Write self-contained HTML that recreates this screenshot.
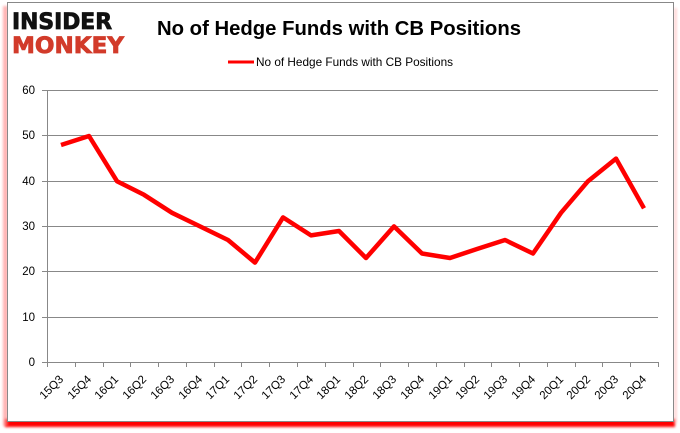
<!DOCTYPE html>
<html><head><meta charset="utf-8"><style>
html,body{margin:0;padding:0;background:#fff;}
body{width:680px;height:433px;overflow:hidden;position:relative;}
svg{position:absolute;left:0;top:0;}
</style></head><body>
<svg width="680" height="433" viewBox="0 0 680 433" xmlns="http://www.w3.org/2000/svg">
<defs>
<filter id="sh" x="-5%" y="-50%" width="110%" height="200%"><feGaussianBlur stdDeviation="1.2"/></filter>
<filter id="sh2" x="-50%" y="-5%" width="200%" height="110%"><feGaussianBlur stdDeviation="1.2"/></filter>
</defs>
<!-- red shadow -->
<rect x="5" y="419" width="670" height="8" fill="#ff0000" filter="url(#sh)"/>
<rect x="3" y="6" width="5" height="420" fill="#ff8080" opacity="0.6" filter="url(#sh2)"/>
<rect x="674" y="8" width="3" height="415" fill="#ffb0b0" opacity="0.5" filter="url(#sh2)"/>
<rect x="7.5" y="2.5" width="666" height="419" fill="#fff" stroke="#888" stroke-width="1"/>
<!-- logo -->
<text x="12" y="29" font-family="'DejaVu Sans', 'Liberation Sans', sans-serif" font-weight="900" font-size="22" fill="#111" textLength="100" lengthAdjust="spacingAndGlyphs" stroke="#111" stroke-width="0.8">INSIDER</text>
<text x="12" y="53" font-family="'DejaVu Sans', 'Liberation Sans', sans-serif" font-weight="900" font-size="22" fill="#d23b2a" textLength="112" lengthAdjust="spacingAndGlyphs" stroke="#d23b2a" stroke-width="0.8">MONKEY</text>
<!-- title -->
<text x="339" y="35" text-anchor="middle" font-family="'Liberation Sans', sans-serif" font-weight="bold" font-size="20" fill="#000" textLength="364" lengthAdjust="spacingAndGlyphs">No of Hedge Funds with CB Positions</text>
<!-- legend -->
<line x1="228" y1="62" x2="254" y2="62" stroke="#ff0000" stroke-width="3"/>
<text x="256" y="66" font-family="'Liberation Sans', sans-serif" font-size="12" fill="#000" textLength="197" lengthAdjust="spacingAndGlyphs">No of Hedge Funds with CB Positions</text>
<!-- grid -->
<g stroke="#888" stroke-width="1">
<line x1="42" y1="90.5" x2="658" y2="90.5"/>
<line x1="42" y1="135.5" x2="658" y2="135.5"/>
<line x1="42" y1="181.5" x2="658" y2="181.5"/>
<line x1="42" y1="226.5" x2="658" y2="226.5"/>
<line x1="42" y1="271.5" x2="658" y2="271.5"/>
<line x1="42" y1="317.5" x2="658" y2="317.5"/>
<line x1="42" y1="362.5" x2="658" y2="362.5"/>
<line x1="47.5" y1="90" x2="47.5" y2="362"/>
</g>
<g font-family="'Liberation Sans', sans-serif" font-size="11.5" fill="#000" text-anchor="end">
<text x="35" y="94">60</text>
<text x="35" y="139">50</text>
<text x="35" y="185">40</text>
<text x="35" y="230">30</text>
<text x="35" y="275">20</text>
<text x="35" y="321">10</text>
<text x="35" y="366">0</text>
</g>
<g stroke="#888" stroke-width="1">
<line x1="47.5" y1="362" x2="47.5" y2="367"/><line x1="75.5" y1="362" x2="75.5" y2="367"/><line x1="103.5" y1="362" x2="103.5" y2="367"/><line x1="130.5" y1="362" x2="130.5" y2="367"/><line x1="158.5" y1="362" x2="158.5" y2="367"/><line x1="186.5" y1="362" x2="186.5" y2="367"/><line x1="214.5" y1="362" x2="214.5" y2="367"/><line x1="241.5" y1="362" x2="241.5" y2="367"/><line x1="269.5" y1="362" x2="269.5" y2="367"/><line x1="297.5" y1="362" x2="297.5" y2="367"/><line x1="325.5" y1="362" x2="325.5" y2="367"/><line x1="353.5" y1="362" x2="353.5" y2="367"/><line x1="380.5" y1="362" x2="380.5" y2="367"/><line x1="408.5" y1="362" x2="408.5" y2="367"/><line x1="436.5" y1="362" x2="436.5" y2="367"/><line x1="464.5" y1="362" x2="464.5" y2="367"/><line x1="491.5" y1="362" x2="491.5" y2="367"/><line x1="519.5" y1="362" x2="519.5" y2="367"/><line x1="547.5" y1="362" x2="547.5" y2="367"/><line x1="575.5" y1="362" x2="575.5" y2="367"/><line x1="602.5" y1="362" x2="602.5" y2="367"/><line x1="630.5" y1="362" x2="630.5" y2="367"/><line x1="658.5" y1="362" x2="658.5" y2="367"/>
</g>
<g font-family="'Liberation Sans', sans-serif" font-size="11.5" fill="#000" text-anchor="end">
<text transform="translate(64,380) rotate(-45)">15Q3</text>
<text transform="translate(92,380) rotate(-45)">15Q4</text>
<text transform="translate(119,380) rotate(-45)">16Q1</text>
<text transform="translate(147,380) rotate(-45)">16Q2</text>
<text transform="translate(175,380) rotate(-45)">16Q3</text>
<text transform="translate(203,380) rotate(-45)">16Q4</text>
<text transform="translate(230,380) rotate(-45)">17Q1</text>
<text transform="translate(258,380) rotate(-45)">17Q2</text>
<text transform="translate(286,380) rotate(-45)">17Q3</text>
<text transform="translate(314,380) rotate(-45)">17Q4</text>
<text transform="translate(341,380) rotate(-45)">18Q1</text>
<text transform="translate(369,380) rotate(-45)">18Q2</text>
<text transform="translate(397,380) rotate(-45)">18Q3</text>
<text transform="translate(425,380) rotate(-45)">18Q4</text>
<text transform="translate(453,380) rotate(-45)">19Q1</text>
<text transform="translate(480,380) rotate(-45)">19Q2</text>
<text transform="translate(508,380) rotate(-45)">19Q3</text>
<text transform="translate(536,380) rotate(-45)">19Q4</text>
<text transform="translate(564,380) rotate(-45)">20Q1</text>
<text transform="translate(591,380) rotate(-45)">20Q2</text>
<text transform="translate(619,380) rotate(-45)">20Q3</text>
<text transform="translate(647,380) rotate(-45)">20Q4</text>
</g>
<polyline fill="none" stroke="#ff0000" stroke-width="4.5" stroke-linejoin="round" stroke-linecap="butt"
points="61,145.0 89,136.0 117,181.2 144,194.8 172,212.8 200,226.4 228,240.0 255,262.6 283,217.4 311,235.4 339,231.0 366,258.0 394,226.4 422,253.5 450,258.0 477,249.0 505,240.0 533,253.5 561,212.8 588,181.2 616,158.6 644,208.3"/>
</svg>
</body></html>
